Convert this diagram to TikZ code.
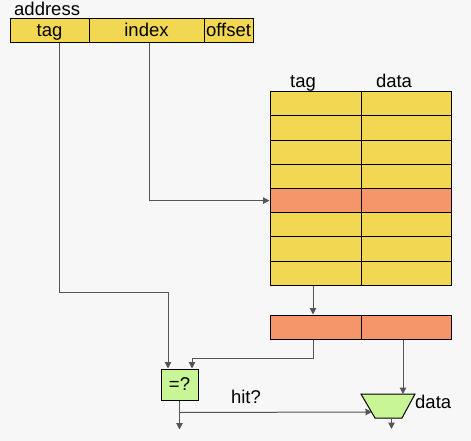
\documentclass[tikz,border=0pt]{standalone}
\usepackage{fontspec}
\setmainfont{Liberation Sans}
\usetikzlibrary{arrows.meta}
\definecolor{cacheyellow}{HTML}{F2D852}
\definecolor{cacheorange}{HTML}{F5956A}
\definecolor{cachegreen}{HTML}{C8F595}
\definecolor{pagegray}{HTML}{F7F7F7}
\definecolor{wiregray}{HTML}{555555}

\begin{document}
\begin{tikzpicture}[x=1pt,y=-1pt,
  every node/.style={font=\fontsize{18.5}{21}\selectfont},
  box/.style={draw=black, line width=1pt, inner sep=0pt, minimum height=24pt, text height=14pt, text depth=2pt},
  wire/.style={draw=wiregray, line width=1pt, -{Triangle[length=6.5pt,width=6.5pt]}},
  lbl/.style={inner sep=0pt},
  muxshape/.style={draw=black, line width=1pt, fill=cachegreen}]
\fill[pagegray] (0,0) rectangle (471,441);
\useasboundingbox (0,0) rectangle (471,441);

% address fields
\node[lbl, anchor=base west] (addrlabel) at (14,16) {address};
\node[box, fill=cacheyellow, minimum width=79pt] (addrtag) at (49.5,31) {tag};
\node[box, fill=cacheyellow, minimum width=115pt] (addrindex) at (146.5,31) {index};
\node[box, fill=cacheyellow, minimum width=49pt] (addroffset) at (228.5,31) {offset};

% cache array
\node[lbl, anchor=base] (taghead) at (303,88) {tag};
\node[lbl, anchor=base] (datahead) at (394,88) {data};
\foreach \i/\c in {1/cacheyellow,2/cacheyellow,3/cacheyellow,4/cacheyellow,
                   5/cacheorange,6/cacheyellow,7/cacheyellow,8/cacheyellow} {
  \node[box, fill=\c, minimum width=91pt, minimum height=24.2pt] (tag\i) at (315.5,{91.7+24.2*(\i-0.5)}) {};
  \node[box, fill=\c, minimum width=90pt, minimum height=24.2pt] (data\i) at (406,{91.7+24.2*(\i-0.5)}) {};
}

% selected line, compare and mux
\node[box, fill=cacheorange, minimum width=91pt] (rtag) at (315.5,327) {};
\node[box, fill=cacheorange, minimum width=90pt] (rdata) at (406,327) {};
\node[box, fill=cachegreen, minimum width=37pt, minimum height=31pt] (cmp) at (179.5,384.5) {=?};
\draw[muxshape] (361,394) -- (415,394) -- (402,418) -- (375,418) -- cycle;
\coordinate (muxin) at (403,394);
\coordinate (muxsel) at (372,412);
\coordinate (muxout) at (391.5,418);
\node[lbl, anchor=base] (hitlabel) at (246,403) {hit?};
\node[lbl, anchor=base west] (datalabel) at (415,408) {data};

% wires
\draw[wire] ([xshift=9.5pt]addrtag.south) -- ++(0,249) -| ([xshift=-11.5pt]cmp.north);
\draw[wire] ([xshift=2.5pt]addrindex.south) |- (tag5.west);
\draw[wire] ([xshift=-2.5pt]tag8.south) -- ([xshift=-2.5pt]rtag.north);
\draw[wire] ([xshift=-2.5pt]rtag.south) -- ++(0,19) -| ([xshift=12.5pt]cmp.north);
\draw[wire] (rdata.south -| muxin) -- (muxin);
\coordinate (hitsplit) at ([yshift=-12pt]cmp.south);
\draw[wire] (cmp.south) -- ++(0,29);
\draw[wire] (hitsplit) -- (muxsel);
\draw[wire] (muxout) -- ++(0,11);
\end{tikzpicture}
\end{document}
